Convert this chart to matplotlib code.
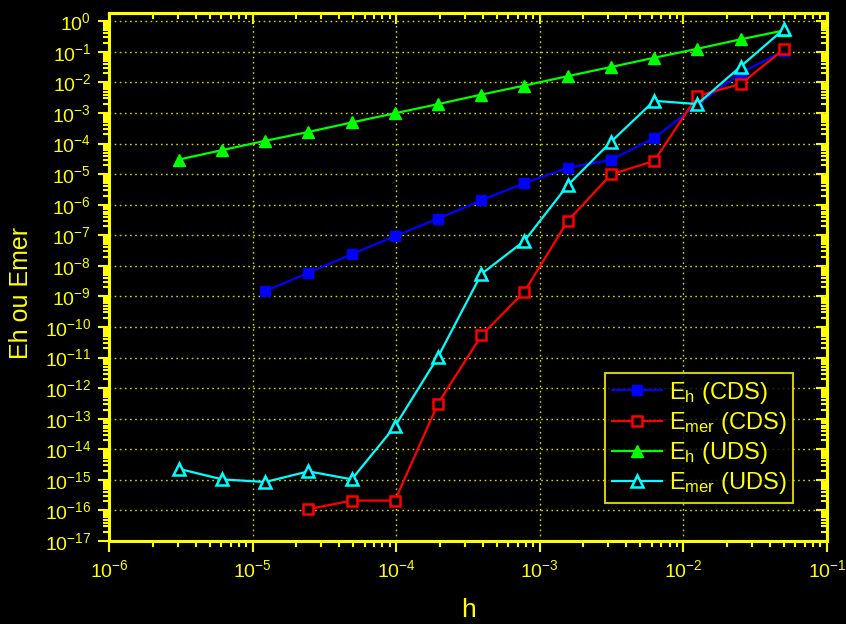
import matplotlib
matplotlib.use('Agg')
import matplotlib.pyplot as plt
import matplotlib.ticker as mticker
import numpy as np

# grid spacing h
h = [3.05e-6, 6.1e-6, 1.22e-5, 2.44e-5, 4.88e-5, 9.77e-5, 1.95e-4, 3.91e-4,
     7.81e-4, 1.56e-3, 3.13e-3, 6.25e-3, 1.25e-2, 2.5e-2, 5.0e-2]

# Eh (CDS) starts at h[2], Emer (CDS) at h[3]
eh_cds = [1.5e-9, 5.9e-9, 2.4e-8, 9.4e-8, 3.5e-7, 1.4e-6, 5.1e-6, 1.6e-5,
          2.95e-5, 1.5e-4, 1.9e-3, 2.0e-2, 0.11]
emer_cds = [1.1e-16, 2.1e-16, 2.1e-16, 3.1e-13, 5.3e-11, 1.45e-9, 2.9e-7,
            9.8e-6, 2.7e-5, 3.6e-3, 8.9e-3, 0.12]
eh_uds = [3.0e-5, 6.1e-5, 1.23e-4, 2.4e-4, 4.9e-4, 9.8e-4, 1.95e-3, 4.0e-3,
          7.9e-3, 1.6e-2, 3.2e-2, 6.4e-2, 0.126, 0.257, 0.5]
emer_uds = [2.3e-15, 1.04e-15, 8.5e-16, 1.9e-15, 1.04e-15, 5.6e-14, 1.05e-11,
            5.4e-9, 6.6e-8, 4.3e-6, 1.15e-4, 2.5e-3, 1.96e-3, 3.3e-2, 0.55]

labels = ['E$_h$ (CDS)', 'E$_{mer}$ (CDS)', 'E$_h$ (UDS)', 'E$_{mer}$ (UDS)']

yel = '#ffff00'
plt.rcParams['font.family'] = ['Liberation Sans', 'DejaVu Sans']
plt.rcParams['mathtext.default'] = 'regular'

fig = plt.figure(figsize=(8.46, 6.24), dpi=100, facecolor='black')
ax = fig.add_axes([0.1292, 0.1330, 0.8483, 0.8466], facecolor='black')

ax.plot(h[2:], eh_cds, color='#0000ff', lw=1.6, marker='s', ms=7.5,
        mfc='#0000ff', mec='#0000ff', label=labels[0])
ax.plot(h[3:], emer_cds, color='#ff0000', lw=1.6, marker='s', ms=7.2,
        mfc='black', mec='#ff0000', mew=1.8, label=labels[1])
ax.plot(h, eh_uds, color='#00ff00', lw=1.6, marker='^', ms=9,
        mfc='#00ff00', mec='#00ff00', label=labels[2])
ax.plot(h, emer_uds, color='#00ffff', lw=1.6, marker='^', ms=9,
        mfc='black', mec='#00ffff', mew=1.8, label=labels[3])

ax.set_xscale('log')
ax.set_yscale('log')
ax.set_xlim(1e-6, 1e-1)
ax.set_ylim(1e-17, 10 ** 0.28)

ax.xaxis.set_major_locator(mticker.LogLocator(base=10, numticks=20))
ax.xaxis.set_minor_locator(mticker.LogLocator(base=10, subs=np.arange(2, 10), numticks=20))
ax.yaxis.set_major_locator(mticker.LogLocator(base=10, numticks=40))
ax.yaxis.set_minor_locator(mticker.LogLocator(base=10, subs=np.arange(2, 10), numticks=40))

ax.grid(True, which='major', color='#d8d800', linestyle=(0, (1.2, 2.5)), lw=1.0)

for s in ax.spines.values():
    s.set_color(yel)
    s.set_linewidth(2.2)

ax.tick_params(which='both', colors=yel, direction='out', width=1.5,
               labelsize=14, pad=5)
ax.tick_params(which='major', length=8)
ax.tick_params(which='minor', length=4.5)

# mirrored ticks on top / right pointing inwards
top = ax.secondary_xaxis('top')
top.tick_params(which='both', colors=yel, direction='in', width=1.5, labeltop=False)
top.tick_params(which='major', length=8)
top.tick_params(which='minor', length=4.5)
top.xaxis.set_major_locator(mticker.LogLocator(base=10, numticks=20))
top.xaxis.set_minor_locator(mticker.LogLocator(base=10, subs=np.arange(2, 10), numticks=20))
top.spines['top'].set_color(yel)
top.spines['top'].set_linewidth(2.2)

right = ax.secondary_yaxis('right')
right.tick_params(which='both', colors=yel, direction='in', width=1.5, labelright=False)
right.tick_params(which='major', length=8)
right.tick_params(which='minor', length=4.5)
right.yaxis.set_major_locator(mticker.LogLocator(base=10, numticks=40))
right.yaxis.set_minor_locator(mticker.LogLocator(base=10, subs=np.arange(2, 10), numticks=40))
right.spines['right'].set_color(yel)
right.spines['right'].set_linewidth(2.2)

ax.set_xlabel('h', color=yel, fontsize=19, labelpad=12)
ax.set_ylabel('Eh ou Emer', color=yel, fontsize=18)
ax.yaxis.set_label_coords(-0.106, 0.469)

leg = ax.legend(loc='lower right', bbox_to_anchor=(0.953, 0.072), fontsize=17,
                frameon=True, fancybox=False, facecolor='black', edgecolor=yel,
                labelcolor=yel, handlelength=2.1, handletextpad=0.3,
                labelspacing=0.18, borderpad=0.28, borderaxespad=0)
leg.get_frame().set_linewidth(1.5)

fig.savefig('out.png', dpi=100, facecolor='black')
